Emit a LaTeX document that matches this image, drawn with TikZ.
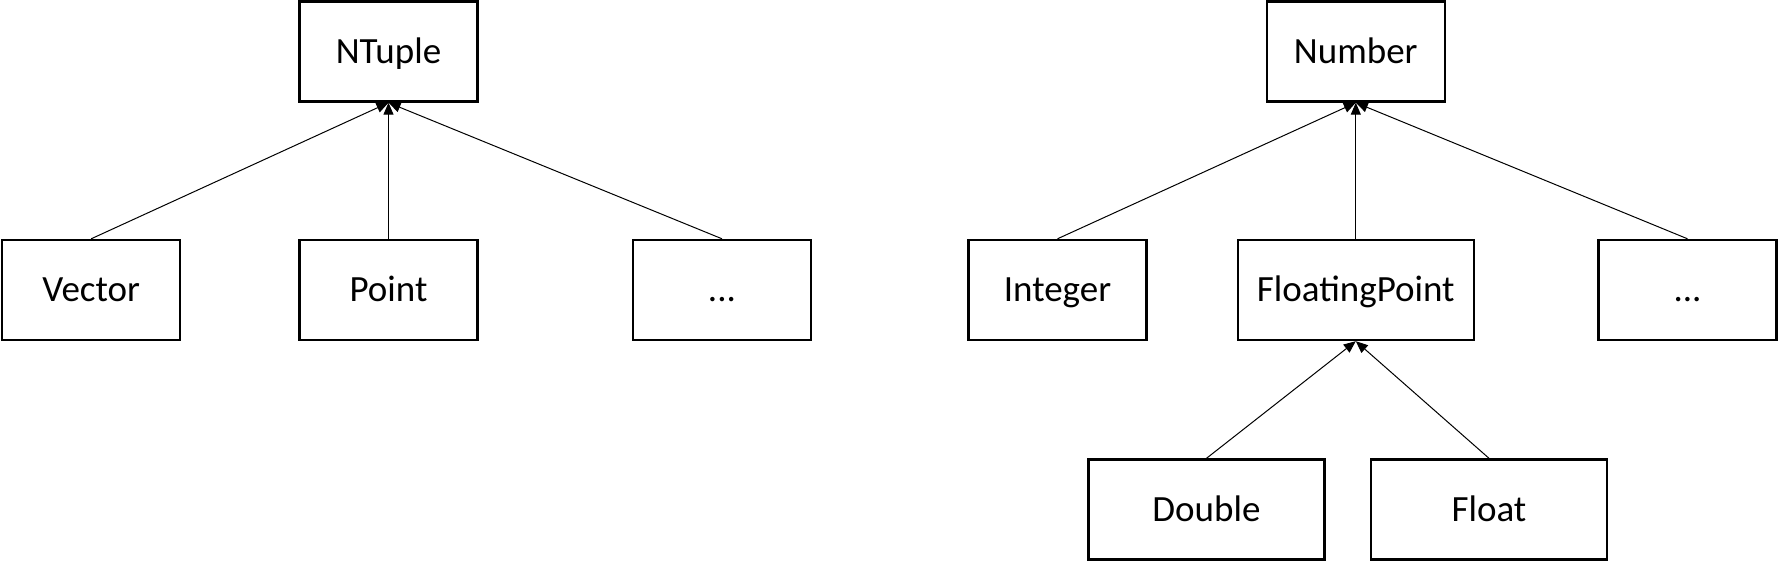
\documentclass[tikz,border=0pt]{standalone}
\usepackage{fontspec}
\setmainfont{Carlito}
\usetikzlibrary{arrows.meta}

\tikzset{
  cls/.style={draw, line width=1.2pt, minimum width=89pt, minimum height=50pt,
    inner sep=0pt, text height=15pt, text depth=3pt,
    font=\fontsize{18.5}{20}\selectfont},
  widecls/.style={cls, minimum width=118pt},
  inherit/.style={-{Triangle[length=6pt,width=5pt]}, line width=0.5pt}
}

\begin{document}
\begin{tikzpicture}[x=1pt,y=1pt]
\useasboundingbox (0,0) rectangle (889.5,-280.5);

% NTuple hierarchy
\node[cls] (ntuple) at (194.25,-25.75) {NTuple};
\node[cls] (vector) at (45.6,-145) {Vector};
\node[cls] (point) at (194.25,-145) {Point};
\node[cls] (tupleetc) at (361,-145) {...};

% Number hierarchy
\node[cls] (number) at (677.9,-25.75) {Number};
\node[cls] (integer) at (528.75,-145) {Integer};
\node[widecls] (floating) at (677.9,-145) {FloatingPoint};
\node[cls] (numberetc) at (843.75,-145) {...};
\node[widecls] (double) at (603.25,-254.75) {Double};
\node[widecls] (float) at (744.5,-254.75) {Float};

% Inheritance arrows
\draw[inherit] (vector.north) -- (ntuple.south);
\draw[inherit] (point.north) -- (ntuple.south);
\draw[inherit] (tupleetc.north) -- (ntuple.south);
\draw[inherit] (integer.north) -- (number.south);
\draw[inherit] (floating.north) -- (number.south);
\draw[inherit] (numberetc.north) -- (number.south);
\draw[inherit] (double.north) -- (floating.south);
\draw[inherit] (float.north) -- (floating.south);

\end{tikzpicture}
\end{document}
